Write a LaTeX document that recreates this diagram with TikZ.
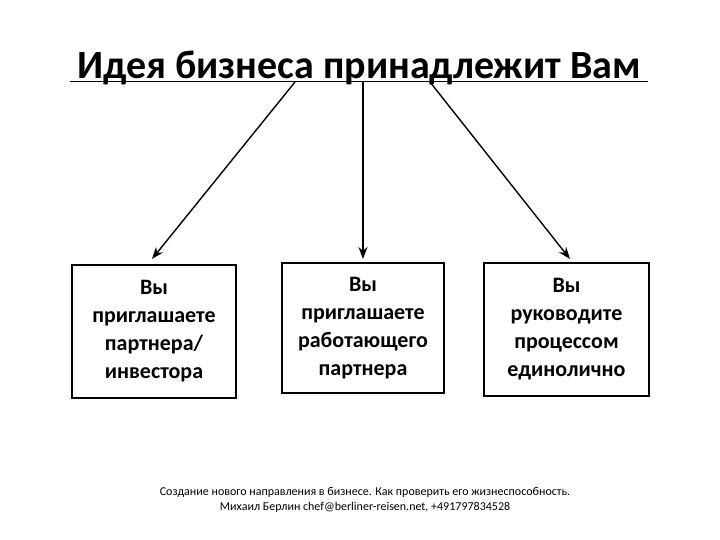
\documentclass[tikz,border=0pt]{standalone}
\usepackage{fontspec}
\setmainfont{Carlito}
\usetikzlibrary{arrows.meta}
\begin{document}
\begin{tikzpicture}[x=1pt,y=-1pt,
  boxst/.style={draw=black,line width=1.6pt,minimum width=164pt,inner sep=0pt,align=center,font=\bfseries\fontsize{22}{28}\selectfont},
  arr/.style={line width=1.4pt,-{Stealth[length=12pt,width=9pt]}}]
\useasboundingbox (0,0) rectangle (720,540);
\node[anchor=base,font=\bfseries\fontsize{40}{44}\selectfont,inner sep=0pt] (title) at (359,79) {Идея бизнеса принадлежит Вам};
\draw[line width=1pt] (70,82) coordinate (ul1) -- (648,82) coordinate (ul2);
\coordinate (s1) at (295,82);
\coordinate (s2) at (363,82);
\coordinate (s3) at (430,82);
\node[boxst,minimum height=133pt] (b1) at (154,331.5) {Вы\\приглашаете\\партнера/\\инвестора};
\node[boxst,minimum height=130pt,minimum width=162pt] (b2) at (363,328) {Вы\\приглашаете\\работающего\\партнера};
\node[boxst,minimum height=133pt,minimum width=165pt] (b3) at (566.5,329.5) {Вы\\руководите\\процессом\\единолично};
\draw[arr] (s1) -- (152,259) coordinate (e1);
\draw[arr] (s2) -- (363,259) coordinate (e2);
\draw[arr] (s3) -- (570,259) coordinate (e3);
\node[align=center,font=\fontsize{12}{15}\selectfont,inner sep=0pt] (foot) at (365,500) {Создание нового направления в бизнесе. Как проверить его жизнеспособность.\\Михаил Берлин chef@berliner-reisen.net, +491797834528};
\end{tikzpicture}
\end{document}
